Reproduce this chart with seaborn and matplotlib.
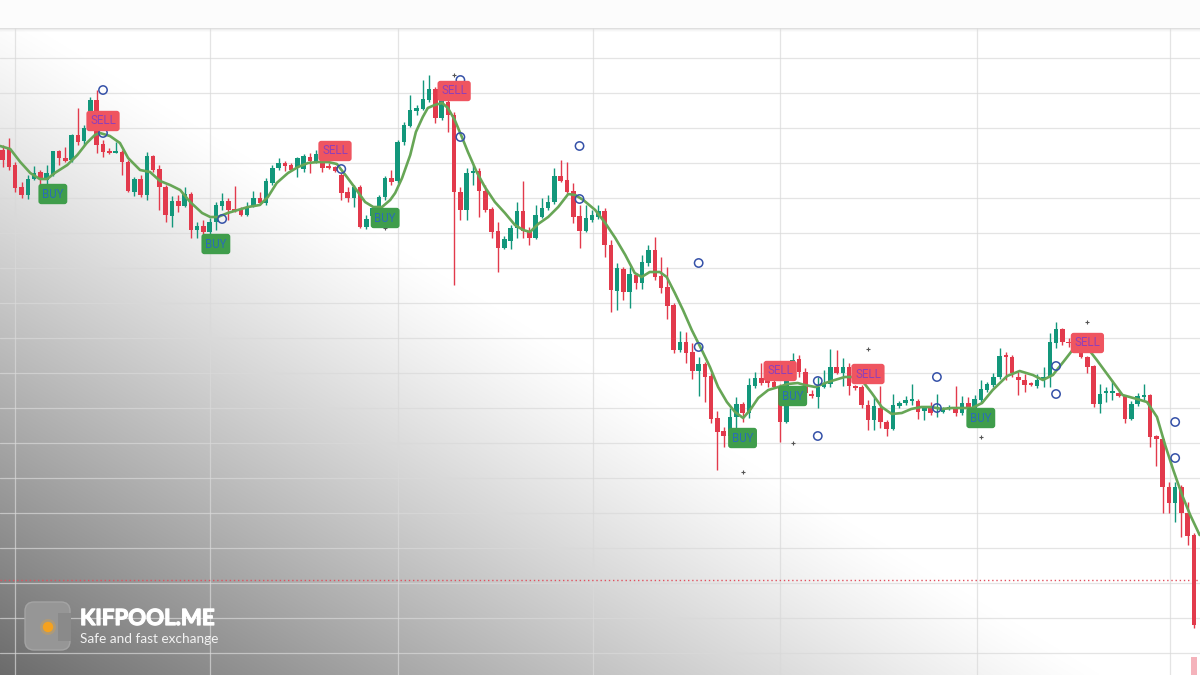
import numpy as np
import matplotlib
matplotlib.use("Agg")
import matplotlib.pyplot as plt
import matplotlib.patheffects as pe
from matplotlib.patches import FancyBboxPatch, Rectangle, Circle
from matplotlib.transforms import IdentityTransform
import seaborn as sns

# ---------------- data (price units, bar index = position) ----------------
opens = [850, 852, 835, 813, 805, 821, 828, 820, 825, 849,
         842, 840, 865, 859, 873, 900, 856, 848.5, 847.5, 848,
         838, 808, 821, 805, 844, 831, 813, 784, 799, 794,
         806, 770, 774, 768, 778, 794, 799, 791, 790, 785,
         794, 802, 797, 817, 832, 837, 835, 833, 831, 843,
         838, 846, 833, 833, 825, 808, 802, 813, 773, 784,
         792, 803, 822, 819, 858, 874, 889, 891, 900, 911,
         882, 898, 885, 808, 790, 827, 829, 809, 791, 769,
         752, 759, 772, 789, 769, 762, 783, 792, 798, 824,
         820, 809, 784, 769, 780, 783, 789, 755, 709, 731,
         708, 725, 717, 737, 750, 724, 713, 695, 650, 658,
         648, 629, 636, 624, 582, 569, 564, 583, 596, 587,
         614, 622, 618.5, 618, 613, 578, 621, 641, 628, 605.5,
         603, 613, 616, 633, 627, 633, 613.5, 613, 595, 580,
         592, 578, 571, 594, 597, 599.5, 599, 589, 592, 591.5,
         588, 591.5, 593, 587, 597, 590, 600, 610, 615, 623,
         645, 643, 623, 620, 617, 614, 620, 623, 657, 671,
         658, 660, 650, 643, 634, 596, 607.5, 607.5, 607, 604,
         581, 596, 603.5, 605, 564, 561, 513, 497, 513, 487,
         465]
highs = [855, 862, 838, 818, 825, 834, 830, 835, 849, 850,
         853, 866, 892, 875, 903, 910, 860, 852, 858, 850,
         840, 823, 825, 848, 845, 835, 815, 804, 805, 813,
         808, 778, 780, 782, 798, 807, 802, 814, 793, 798,
         809, 808, 822, 835, 842, 839, 837, 843, 846, 847,
         850, 847, 837, 834, 827, 813, 815, 815, 785, 793,
         805, 824, 830, 860, 878, 905, 895, 920, 925, 913,
         905, 902, 888, 813, 832, 835, 832, 815, 793, 778,
         764, 775, 798, 819, 773, 795, 802, 805, 832, 840,
         838, 817, 795, 795, 790, 795, 792, 760, 737, 733,
         733, 727, 745, 755, 763, 743, 733, 697, 669, 668,
         657, 643, 638, 627, 589, 573, 592, 603, 598, 622,
         628, 637, 621, 623, 616, 628, 647, 645, 632, 610,
         623, 630, 651, 650, 642, 637, 615, 615, 600, 603,
         614, 580, 606, 599, 604, 616, 601, 594, 598, 606,
         593, 595, 614, 604, 603, 605, 620, 618, 627, 652,
         648, 645, 628, 626, 618, 626, 633, 667, 678, 672,
         662, 663, 652, 644, 635, 616, 613, 620, 609, 605,
         599, 607, 616, 606, 565, 562, 518, 518, 515, 498,
         467]
lows = [833, 830, 808, 802, 801, 820, 815, 815, 824, 835,
        838, 838, 855, 855, 872, 847, 843, 846, 847, 825,
        808, 804, 803, 800, 828, 790, 778, 773, 788, 793,
        762, 762, 765, 764, 770, 790, 780, 788, 784, 784,
        793, 795, 795, 815, 830, 829, 829, 823, 828, 827,
        837, 828, 831, 828, 800, 798, 793, 772, 771, 780,
        788, 800, 815, 817, 855, 873, 885, 890, 898, 877,
        880, 868, 715, 780, 780, 815, 783, 788, 762, 728,
        751, 751, 762, 762, 755, 761, 782, 790, 796, 818,
        807, 777, 752, 768, 778, 781, 743, 688, 690, 700,
        692, 711, 711, 734, 720, 707, 681, 647, 648, 637,
        621, 604, 598, 577, 530, 553, 558, 572, 578, 582,
        612, 615, 613, 612, 558, 577, 620, 623, 595, 602,
        592, 612, 613, 626, 614, 605, 610, 592, 570, 570,
        572, 564, 570, 592, 595, 595, 581, 580, 585, 583,
        587, 590, 584, 585, 588, 588, 598, 608, 613, 621,
        620, 623, 605, 608, 614, 612, 613, 613, 652, 655,
        653, 650, 642, 627, 593, 587, 598, 600, 603, 577,
        580, 594, 600, 553, 534, 487, 487, 478, 463, 455,
        372]
closes = [840, 833, 812, 805, 821, 827, 821, 827, 849, 842,
          839, 865, 858, 872, 900, 855, 848, 847.5, 848.5, 838,
          809, 821, 805, 844, 830, 813, 785, 799, 794, 806,
          770, 774, 768, 778, 795, 799, 790, 789.5, 785, 793,
          802, 797, 819, 832, 837, 834, 830, 842, 844, 839,
          846, 832, 832.5, 829, 807, 802, 813, 773, 781, 792,
          803, 822, 818, 858, 875, 890, 892, 901, 911, 882,
          903, 885, 808, 790, 827, 829, 809, 790, 768, 752,
          761, 772, 789, 769, 762, 785, 792, 798, 824, 819,
          808, 783, 769, 782, 785, 789, 755, 710, 732, 708,
          726, 717, 738, 750, 723, 712, 694, 650, 658, 647,
          629, 636, 623, 581, 568, 564, 583, 596, 587, 615,
          622, 617, 617.5, 613, 578, 622, 640, 628, 607, 604.5,
          613, 617, 633, 627, 633, 614, 612.5, 595, 580, 594,
          578, 571, 595, 597, 600, 600.5, 588, 592, 587, 592.5,
          592, 592.5, 587, 597, 591, 601, 611, 616, 623, 644,
          643, 627, 620, 615, 615, 620, 623, 658, 671, 658,
          657, 652, 643, 633, 596, 606, 608.5, 608.5, 604, 581,
          596, 604, 604.5, 563, 561, 513, 497, 513, 487, 464,
          375]

# smoothed moving-average line (bar position, price)
ma_pos = [-0.4, 1.2, 2.8, 4.4, 5.9, 7.1, 8.3, 10.3, 11.9, 13.4, 14.7, 15.5, 17.1, 18.7,
          20.0, 21.9, 23.5, 25.1, 26.7, 28.3, 29.9, 31.8, 33.1, 34.3, 35.9, 37.5, 39.1,
          41.0, 42.3, 43.7, 45.5, 47.1, 48.7, 50.3, 51.9, 53.3, 54.9, 56.2, 57.8, 59.1,
          60.5, 61.8, 62.6, 63.7, 65.0, 65.9, 67.0, 67.8, 68.9, 70.1, 71.0, 72.1, 73.3,
          74.2, 75.6, 76.9, 78.5, 80.1, 81.7, 83.0, 84.1, 85.4, 87.0, 88.6, 90.2, 91.3,
          92.6, 94.5, 96.1, 97.7, 99.3, 100.8, 101.9, 103.2, 104.8, 105.9, 107.2, 108.5,
          109.9, 111.5, 112.8, 114.1, 115.5, 116.8, 118.1, 119.2, 120.5, 122.1, 123.7,
          125.2, 126.8, 127.9, 129.6, 131.2, 132.7, 134.3, 135.9, 137.0, 138.6, 140.2,
          141.8, 143.4, 144.9, 146.5, 148.1, 149.8, 151.4, 152.9, 154.6, 156.2, 157.9,
          160.2, 162.2, 164.3, 165.9, 167.5, 169.4, 171.0, 172.9, 174.5, 176.6, 178.6,
          180.9, 182.5, 184.1, 185.4, 186.7, 188.1, 189.4, 190.9]
ma_val = [854, 851, 838, 827, 821, 821, 827, 835, 845, 857, 865, 867, 864, 857,
          842, 830, 828, 819, 815, 810, 798, 787, 783, 783, 787, 790, 793,
          795, 803, 817, 827, 833, 837, 838, 838, 836, 823, 812, 798, 793,
          793, 800, 807, 822, 845, 868, 883, 892, 895, 897, 892, 880, 862,
          848, 828, 813, 798, 787, 775, 770, 768, 776, 783, 793, 806, 805,
          800, 790, 777, 762, 745, 727, 723, 728, 728, 723, 707, 690,
          670, 650, 633, 613, 598, 588, 582, 590, 602, 610, 613,
          616, 617, 615, 613, 617, 620, 623, 623, 620, 607, 593,
          586, 587, 591, 593, 593, 591, 592, 592, 592, 597, 610,
          624, 629, 625, 620, 625, 640, 653, 653, 640, 622, 605,
          601, 598, 583, 555, 530, 505, 485, 465]

circle_pos = [16, 16, 35, 54, 73, 73, 92, 92, 111, 111, 130, 130, 149, 149, 168, 168, 187, 187]
circle_val = [910, 867, 781, 831, 920, 863, 854, 801, 737, 653, 619, 564, 623, 592, 634, 606, 578, 542]
plus_pos = [61, 72, 118, 126, 138, 156, 173]
plus_val = [772, 925, 528, 557, 651, 563, 678]
buy_pos = [8, 34, 61, 118, 126, 156]
buy_val = [806, 756, 782, 562, 604, 582]
sell_pos = [16, 53, 72, 124, 138, 173]
sell_val = [879, 849, 909, 629, 626, 657]
vol_pos = [190]
vol_val = [18]
last_price_line = 420
grid_x = [2.0, 33.1, 63.0, 94.1, 124.0, 155.4, 186.2]
grid_y = [942, 907, 872, 837, 802, 767, 732, 697, 662, 627, 592, 557, 522, 487, 452, 417, 382, 347]

assert len(opens) == len(highs) == len(lows) == len(closes)
assert len(ma_pos) == len(ma_val)

# ---------------- style ----------------
sns.set_style("white")
plt.rcParams['font.family'] = ['Roboto', 'DejaVu Sans']

GREEN = "#13977b"
RED = "#e23a4c"

W, H = 1200, 675
fig = plt.figure(figsize=(12, 6.75), dpi=100)
ax = fig.add_axes([0, 0, 1, 1])
XL = (-0.43, 190.96)
YL = (325, 1000)

# background gradient (grey lower-left fading to white)
py, px = np.mgrid[0:H, 0:W] + 0.5
s = -0.519 * (px - 350) + 0.855 * (py - 220)
b = 1 - 0.58 * np.clip(s / 571.0, 0, 1) ** 1.15
img = np.dstack([b, b, b])
ax.imshow(img, extent=(XL[0], XL[1], YL[0], YL[1]), aspect='auto',
          origin='upper', zorder=0, interpolation='bilinear')

for xv in grid_x:
    ax.axvline(xv, color="#d9d9d9", lw=0.9, alpha=0.7, zorder=1)
for yv in grid_y:
    ax.axhline(yv, color="#d9d9d9", lw=0.9, alpha=0.7, zorder=1)

ax.axhline(last_price_line, color="#e0505e", lw=1.0, ls=(0, (1, 2)), zorder=2)

# candles
o = np.array(opens, float); h = np.array(highs, float)
l = np.array(lows, float); c = np.array(closes, float)
idx = np.arange(len(o))
cols = np.where(c >= o, GREEN, RED)
ax.vlines(idx, l, h, colors=cols, lw=1.0, zorder=3)
body_bottom = np.minimum(o, c)
body_h = np.maximum(np.abs(c - o), 1.3)
ax.bar(idx, body_h, bottom=body_bottom, width=0.72, color=cols, linewidth=0, zorder=4)

# volume bar at the bottom
ax.bar(vol_pos, vol_val, bottom=YL[0], width=0.95, color="#f4b3bb", linewidth=0, zorder=3)

# moving average
sns.lineplot(x=ma_pos, y=ma_val, ax=ax, color="#67a656", linewidth=1.9,
             sort=False, estimator=None, zorder=5)

# markers
ax.scatter(circle_pos, circle_val, s=36, facecolors='none', edgecolors="#3551a8",
           linewidths=1.1, zorder=6)
ax.scatter(plus_pos, plus_val, s=9, marker='+', color="#555555", linewidths=0.8, zorder=6)

for xp, yp in zip(buy_pos, buy_val):
    ax.text(xp, yp, "BUY", ha='center', va='center', fontsize=8.3, color="#2a6db5",
            zorder=8, bbox=dict(boxstyle='round,pad=0.32,rounding_size=0.25',
                                fc="#3f9d4b", ec='none'))
for xp, yp in zip(sell_pos, sell_val):
    ax.text(xp, yp, "SELL", ha='center', va='center', fontsize=8.3, color="#9040b8",
            zorder=8, bbox=dict(boxstyle='round,pad=0.32,rounding_size=0.25',
                                fc="#ef5560", ec='none'))

ax.set_xlim(*XL)
ax.set_ylim(*YL)
ax.set_axis_off()

# header bar
fig.patches.append(Rectangle((0, 1 - 28 / H), 1, 28 / H, transform=fig.transFigure,
                             fc="#fcfcfc", ec='none', zorder=10))
for k, a in enumerate([0.9, 0.5, 0.25, 0.1]):
    fig.patches.append(Rectangle((0, 1 - (29 + k) / H), 1, 1 / H, transform=fig.transFigure,
                                 fc="#dcdcdc", ec='none', alpha=a, zorder=10))

# logo
T = IdentityTransform()
fig.patches.append(FancyBboxPatch((25, H - 650), 45, 48, boxstyle='round,pad=0,rounding_size=9',
                                  fc="#969696", ec="#a4a4a4", lw=1, transform=T, zorder=11))
fig.patches.append(Rectangle((58, H - 641), 13, 28, fc="#8a8a8a", ec='none', transform=T, zorder=12))
fig.patches.append(Circle((48, H - 627), 8, fc="#f5a623", ec='none', alpha=0.25, transform=T, zorder=12))
fig.patches.append(Circle((48, H - 627), 5.2, fc="#f6a21e", ec='none', transform=T, zorder=13))
fig.text(80 / W, 1 - 625 / H, "KIFPOOL.ME", fontsize=16, fontweight='bold',
         family=['Lato', 'DejaVu Sans'], color='white', va='baseline', ha='left', zorder=13,
         path_effects=[pe.withStroke(linewidth=0.9, foreground='white')])
fig.text(80 / W, 1 - 643 / H, "Safe and fast exchange", fontsize=9.8,
         family=['Lato', 'DejaVu Sans'], color='#f2f2f2', va='baseline', ha='left', zorder=13)

fig.savefig("out.png", dpi=100)
